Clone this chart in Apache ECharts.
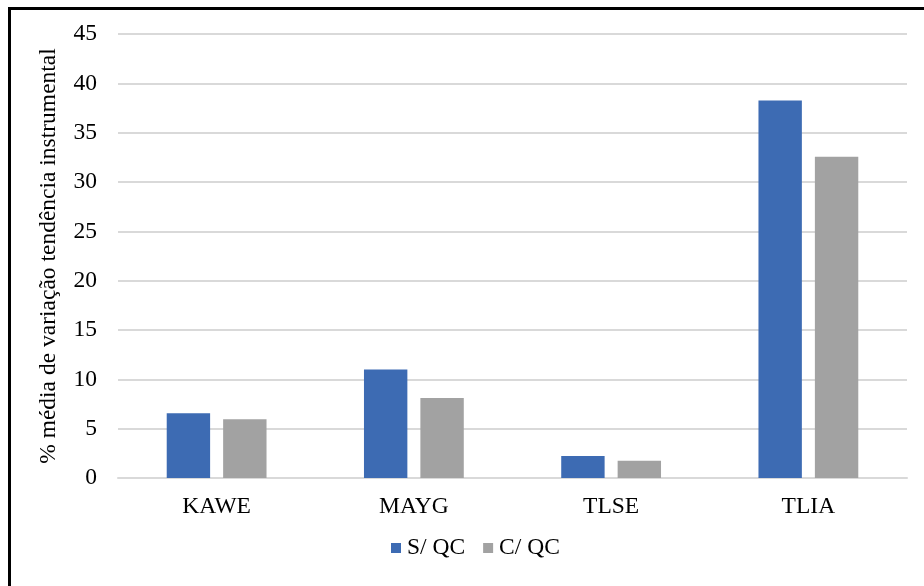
<!DOCTYPE html>
<html>
<head>
<meta charset="utf-8">
<script src="https://cdn.jsdelivr.net/npm/echarts@6/dist/echarts.min.js"></script>
<style>
  html, body { margin: 0; padding: 0; background: #fff; }
  #wrap { position: relative; width: 924px; height: 586px; }
  #chart { width: 924px; height: 586px; }
  #frame { position: absolute; left: 8px; top: 7px; right: 0; bottom: -10px;
           border-left: 3px solid #000; border-top: 3px solid #000; pointer-events: none; }
</style>
</head>
<body>
<div id="wrap">
  <div id="chart"></div>
  <div id="frame"></div>
</div>
<script>
// dados
const categories = ["KAWE", "MAYG", "TLSE", "TLIA"];
const semQC = [6.55, 11.0, 2.23, 38.25];
const comQC = [5.95, 8.1, 1.76, 32.55];
const seriesNames = ["S/ QC", "C/ QC"];

const serif = "'Liberation Serif', 'Times New Roman', serif";
const fs = 23.5;

const chart = echarts.init(document.getElementById("chart"));
chart.setOption({
  animation: false,
  grid: { left: 118, right: 17, top: 34, bottom: 108 },
  legend: {
    data: seriesNames,
    bottom: 21,
    left: 386,
    itemWidth: 10,
    itemHeight: 10,
    itemGap: 18,
    icon: "rect",
    textStyle: { fontFamily: serif, fontSize: fs, color: "#000", padding: [0, 0, 0, 1] }
  },
  xAxis: {
    type: "category",
    data: categories,
    axisLine: { lineStyle: { color: "#d9d9d9", width: 2 } },
    axisTick: { show: false },
    axisLabel: { fontFamily: serif, fontSize: fs, color: "#000", margin: 17 }
  },
  yAxis: {
    type: "value",
    min: 0,
    max: 45,
    interval: 5,
    name: "% média de variação tendência instrumental",
    nameLocation: "middle",
    nameGap: 57,
    nameTextStyle: { fontFamily: serif, fontSize: fs, color: "#000" },
    axisLine: { show: false },
    axisTick: { show: false },
    axisLabel: { fontFamily: serif, fontSize: fs, color: "#000", margin: 21 },
    splitLine: { lineStyle: { color: "#d9d9d9", width: 2 } }
  },
  series: [
    {
      name: seriesNames[0],
      type: "bar",
      data: semQC,
      barWidth: "22%",
      barGap: "30%",
      itemStyle: { color: "#3d6bb3" }
    },
    {
      name: seriesNames[1],
      type: "bar",
      data: comQC,
      barWidth: "22%",
      itemStyle: { color: "#a2a2a2" }
    }
  ]
});
</script>
</body>
</html>
